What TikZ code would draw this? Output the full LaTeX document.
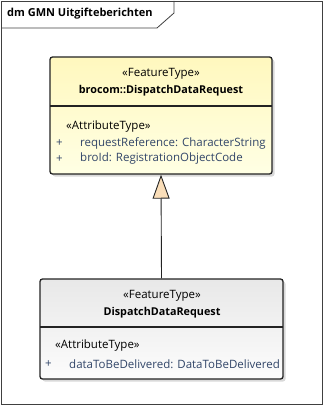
\documentclass[tikz,border=0pt]{standalone}
\usepackage{fontspec}
\setmainfont{Open Sans}
\usetikzlibrary{shadows,arrows.meta}
\definecolor{attrblue}{RGB}{50,70,105}
\definecolor{edgegray}{RGB}{35,35,35}
\definecolor{tanfill}{RGB}{250,222,185}
\definecolor{yellowtop}{RGB}{255,248,190}
\definecolor{yellowbot}{RGB}{255,255,228}
\definecolor{graytop}{RGB}{232,232,232}
\definecolor{graybot}{RGB}{252,252,252}
\tikzset{
  classbox/.style={draw=edgegray, line width=1.3pt, rounded corners=2.5pt,
    drop shadow={shadow xshift=2.5pt, shadow yshift=-2.5pt, fill=black!25, opacity=0.6}},
  stereo/.style={inner sep=0pt, font=\fontsize{11.5}{13}\selectfont},
  attr/.style={inner sep=0pt, anchor=west, text=attrblue, font=\fontsize{11.5}{13}\selectfont},
  divider/.style={draw=edgegray, line width=1.3pt}
}
\begin{document}
\begin{tikzpicture}[x=1pt, y=-1pt]
        \useasboundingbox (0,0) rectangle (324,406);
        % Frame with its tab
        \draw[black!75, line width=0.8pt] (1,1) rectangle (322,404);
        \draw[black!75, line width=0.8pt] (1,28) -- (157,28) -- (174,13) -- (174,1);
        \node[anchor=west, inner sep=0pt, font=\fontsize{11}{13}\selectfont\bfseries] (title) at (7,14) {dm GMN Uitgifteberichten};

        % Nodes for the boxes
        \node[classbox, top color=yellowtop, bottom color=yellowbot, minimum width=222pt, minimum height=117pt] (brocom) at (161,115.5) {};
        \node[classbox, top color=graytop, bottom color=graybot, minimum width=243pt, minimum height=100pt] (dispatch) at (161.5,329) {};

        % Texts of the upper box
        \node[stereo] (brocomst) at (161,74) {«FeatureType»};
        \node[stereo, font=\fontsize{10.8}{13}\selectfont\bfseries] (brocomname) at (161,91) {brocom::DispatchDataRequest};
        \draw[divider] (50,106) -- (272,106);
        \node[stereo, anchor=west] (brocomattr) at (66,127) {«AttributeType»};
        \node[attr] (plusa) at (56,143) {+};
        \node[attr] (reqref) at (80,143) {requestReference: CharacterString};
        \node[attr] (plusb) at (56,159) {+};
        \node[attr] (broid) at (80,159) {broId: RegistrationObjectCode};

        % Texts of the lower box
        \node[stereo] (dispatchst) at (162,296) {«FeatureType»};
        \node[stereo, font=\fontsize{10.8}{13}\selectfont\bfseries] (dispatchname) at (162,313) {DispatchDataRequest};
        \draw[divider] (40,327) -- (283,327);
        \node[stereo, anchor=west] (dispatchattr) at (55,346) {«AttributeType»};
        \node[attr] (plusc) at (45,364) {+};
        \node[attr] (delivered) at (69,364) {dataToBeDelivered: DataToBeDelivered};

        % Generalization
        \draw[edgegray, line width=0.9pt, -{Triangle[length=24pt, width=17pt, fill=tanfill]}] (dispatch.north) -- (brocom.south);
    \end{tikzpicture}
\end{document}
